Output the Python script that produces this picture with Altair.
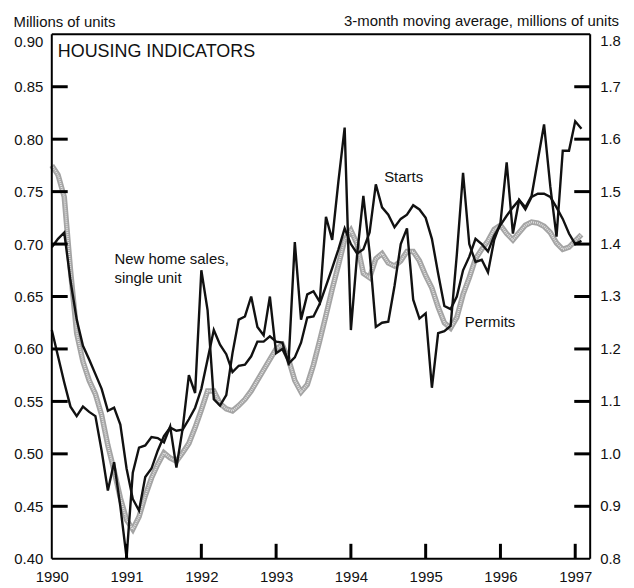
import altair as alt
import pandas as pd

# ---- data (monthly, Jan 1990 - Feb 1997) ----
start_year = 1990
n_months = 86

# New home sales, single unit (millions, left axis)
sales = [0.618, 0.593, 0.568, 0.545, 0.536, 0.545, 0.540, 0.536, 0.503, 0.465,
         0.492, 0.450, 0.401, 0.482, 0.506, 0.508, 0.516, 0.515, 0.511, 0.526,
         0.487, 0.524, 0.575, 0.558, 0.675, 0.637, 0.552, 0.546, 0.556, 0.596,
         0.628, 0.631, 0.650, 0.621, 0.613, 0.650, 0.596, 0.600, 0.588, 0.702,
         0.628, 0.652, 0.655, 0.645, 0.726, 0.704, 0.760, 0.811, 0.618, 0.690,
         0.746, 0.692, 0.621, 0.625, 0.626, 0.660, 0.700, 0.715, 0.647, 0.629,
         0.634, 0.563, 0.615, 0.617, 0.622, 0.690, 0.768, 0.700, 0.683, 0.685,
         0.673, 0.704, 0.720, 0.778, 0.710, 0.742, 0.735, 0.746, 0.780, 0.814,
         0.755, 0.707, 0.789, 0.789, 0.817, 0.810]

# Housing starts, 3-month moving average (millions, right axis)
starts = [1.394, 1.41, 1.422, 1.33, 1.256, 1.206, 1.18, 1.152, 1.124, 1.082,
          1.088, 1.056, 0.972, 0.914, 0.892, 0.956, 0.972, 1.006, 1.034, 1.05,
          1.044, 1.046, 1.066, 1.088, 1.124, 1.18, 1.236, 1.208, 1.19, 1.156,
          1.168, 1.17, 1.186, 1.214, 1.214, 1.224, 1.214, 1.212, 1.172, 1.184,
          1.212, 1.26, 1.262, 1.286, 1.32, 1.354, 1.39, 1.43, 1.40, 1.382,
          1.39, 1.422, 1.514, 1.47, 1.456, 1.432, 1.448, 1.456, 1.474, 1.466,
          1.45, 1.41, 1.344, 1.282, 1.276, 1.30, 1.35, 1.376, 1.41, 1.40,
          1.386, 1.416, 1.436, 1.454, 1.47, 1.484, 1.466, 1.49, 1.496, 1.496,
          1.49, 1.47, 1.448, 1.42, 1.40, 1.406]

# Building permits, 3-month moving average (millions, right axis)
permits = [1.55, 1.532, 1.49, 1.35, 1.23, 1.176, 1.14, 1.114, 1.074, 1.016,
           0.968, 0.916, 0.874, 0.856, 0.88, 0.92, 0.954, 0.98, 1.002, 0.992,
           0.986, 1.002, 1.02, 1.05, 1.084, 1.12, 1.12, 1.096, 1.086, 1.082,
           1.092, 1.104, 1.12, 1.14, 1.16, 1.18, 1.20, 1.208, 1.18, 1.14,
           1.118, 1.132, 1.17, 1.216, 1.264, 1.314, 1.36, 1.408, 1.426, 1.40,
           1.344, 1.336, 1.372, 1.382, 1.364, 1.358, 1.368, 1.386, 1.386, 1.368,
           1.34, 1.316, 1.28, 1.25, 1.24, 1.26, 1.304, 1.336, 1.372, 1.39,
           1.406, 1.428, 1.436, 1.42, 1.408, 1.422, 1.436, 1.442, 1.44, 1.434,
           1.422, 1.402, 1.39, 1.394, 1.406, 1.418]

year_ticks = [1990, 1991, 1992, 1993, 1994, 1995, 1996, 1997]
left_ticks = [0.40, 0.45, 0.50, 0.55, 0.60, 0.65, 0.70, 0.75, 0.80, 0.85, 0.90]
right_ticks = [0.8, 0.9, 1.0, 1.1, 1.2, 1.3, 1.4, 1.5, 1.6, 1.7, 1.8]

ann_text = ["New home sales,", "single unit", "Starts", "Permits"]
ann_t = [1990.838, 1990.838, 1994.445, 1995.523]
ann_v = [0.681, 0.663, 0.7587, 0.6211]

panel_title = "HOUSING INDICATORS"
panel_t = 1990.080
panel_v = 0.8787

left_title = "Millions of units"
right_title = "3-month moving average, millions of units"

# ---- layout constants ----
W, H = 541, 527
X0, X1 = 1990.0, 1997.2
YL0, YL1 = 0.40, 0.90
RIGHT_PER_LEFT = 2.0          # right axis (0.8-1.8) is twice the left axis (0.4-0.9)
TICK_PX = 16
FONT = "Liberation Sans, Arial, Helvetica, sans-serif"
FS = 15
INK = "#111111"

t = [start_year + i / 12 for i in range(n_months)]
df = pd.DataFrame({"t": t, "sales": sales, "starts": starts, "permits": permits})

xs = alt.Scale(domain=[X0, X1], nice=False, zero=False)
ys = alt.Scale(domain=[YL0, YL1], nice=False, zero=False)

x_axis = alt.Axis(values=year_ticks, format="d", tickSize=0, labelPadding=11,
                  labelFont=FONT, labelFontSize=FS, labelColor=INK,
                  domain=False, grid=False, title=None, labelFlush=False)

left_axis = alt.Axis(values=left_ticks, format=".2f", tickSize=0, labelPadding=9,
                     labelFont=FONT, labelFontSize=FS, labelColor=INK,
                     labelBaseline=alt.condition("datum.value >= 0.89", alt.value("top"), alt.value("middle")),
                     domain=False, grid=False, orient="left",
                     title=left_title, titleAngle=0, titleAlign="left",
                     titleBaseline="alphabetic", titleX=-39, titleY=-8,
                     titleFont=FONT, titleFontSize=FS, titleFontWeight="normal",
                     titleColor=INK)

base = alt.Chart(df).transform_calculate(
    starts_l=f"datum.starts / {RIGHT_PER_LEFT}",
    permits_l=f"datum.permits / {RIGHT_PER_LEFT}",
)

# ---- series ----
permits_outer = base.mark_line(color="#a4a4a4", strokeWidth=5.5).encode(
    x=alt.X("t:Q", scale=xs, axis=x_axis),
    y=alt.Y("permits_l:Q", scale=ys, axis=left_axis))
permits_inner = base.mark_line(color="#e2e2e2", strokeWidth=2, strokeDash=[1, 1]).encode(
    x=alt.X("t:Q", scale=xs), y=alt.Y("permits_l:Q", scale=ys))
starts_line = base.mark_line(color=INK, strokeWidth=2.4).encode(
    x=alt.X("t:Q", scale=xs), y=alt.Y("starts_l:Q", scale=ys))
sales_line = base.mark_line(color=INK, strokeWidth=2.4).encode(
    x=alt.X("t:Q", scale=xs), y=alt.Y("sales:Q", scale=ys))

# ---- frame (drawn through the scales, at the domain limits) ----
frame_df = pd.DataFrame({
    "xa": [X0, X1, X0, X0], "xb": [X0, X1, X1, X1],
    "ya": [YL0, YL0, YL0, YL1], "yb": [YL1, YL1, YL0, YL1],
})
frame = alt.Chart(frame_df).mark_rule(color="black", strokeWidth=2).encode(
    x=alt.X("xa:Q", scale=xs), x2="xb:Q", y=alt.Y("ya:Q", scale=ys), y2="yb:Q")

# ---- inward ticks ----
lt_df = pd.DataFrame({"tick": left_ticks[1:-1]})
left_tick_rules = alt.Chart(lt_df).mark_rule(color="black", strokeWidth=3).encode(
    x=alt.value(0), x2=alt.value(TICK_PX), y=alt.Y("tick:Q", scale=ys))

rt_df = pd.DataFrame({"tick": right_ticks[1:-1]})
right_tick_rules = alt.Chart(rt_df).transform_calculate(
    tl=f"datum.tick / {RIGHT_PER_LEFT}").mark_rule(color="black", strokeWidth=3).encode(
    x=alt.value(W - TICK_PX), x2=alt.value(W), y=alt.Y("tl:Q", scale=ys))

bt_df = pd.DataFrame({"year": year_ticks[1:]})
bottom_tick_rules = alt.Chart(bt_df).mark_rule(color="black", strokeWidth=3).encode(
    x=alt.X("year:Q", scale=xs), y=alt.value(H), y2=alt.value(H - TICK_PX + 1))

# ---- right axis labels and title ----
rl_df = pd.DataFrame({"tick": right_ticks})
right_labels_mid = alt.Chart(rl_df).transform_filter("datum.tick < 1.79").transform_calculate(
    tl=f"datum.tick / {RIGHT_PER_LEFT}").mark_text(
    font=FONT, fontSize=FS, color=INK, align="left", baseline="middle").encode(
    x=alt.value(W + 10), y=alt.Y("tl:Q", scale=ys), text=alt.Text("tick:Q", format=".1f"))
right_labels_top = alt.Chart(rl_df).transform_filter("datum.tick >= 1.79").transform_calculate(
    tl=f"datum.tick / {RIGHT_PER_LEFT}").mark_text(
    font=FONT, fontSize=FS, color=INK, align="left", baseline="top").encode(
    x=alt.value(W + 10), y=alt.Y("tl:Q", scale=ys), text=alt.Text("tick:Q", format=".1f"))

rt_title_df = pd.DataFrame({"label": [right_title]})
right_title_mark = alt.Chart(rt_title_df).mark_text(
    font=FONT, fontSize=FS, color=INK, align="right", baseline="alphabetic").encode(
    x=alt.value(W + 29), y=alt.value(-8), text="label:N")

# ---- annotations ----
ann_df = pd.DataFrame({"label": ann_text, "t": ann_t, "v": ann_v})
ann = alt.Chart(ann_df).mark_text(font=FONT, fontSize=FS, color=INK, align="left",
                                   baseline="alphabetic").encode(
    x=alt.X("t:Q", scale=xs), y=alt.Y("v:Q", scale=ys), text="label:N")

ttl_df = pd.DataFrame({"label": [panel_title], "t": [panel_t], "v": [panel_v]})
ttl = alt.Chart(ttl_df).mark_text(font=FONT, fontSize=18, color=INK, align="left",
                                   baseline="alphabetic").encode(
    x=alt.X("t:Q", scale=xs), y=alt.Y("v:Q", scale=ys), text="label:N")

chart = alt.layer(
    permits_outer, permits_inner, starts_line, sales_line,
    frame, left_tick_rules, right_tick_rules, bottom_tick_rules,
    right_labels_mid, right_labels_top, right_title_mark,
    ann, ttl,
).properties(width=W, height=H).configure_view(strokeWidth=0)

chart.save("out.html", embed_options={"renderer": "svg", "actions": False})
